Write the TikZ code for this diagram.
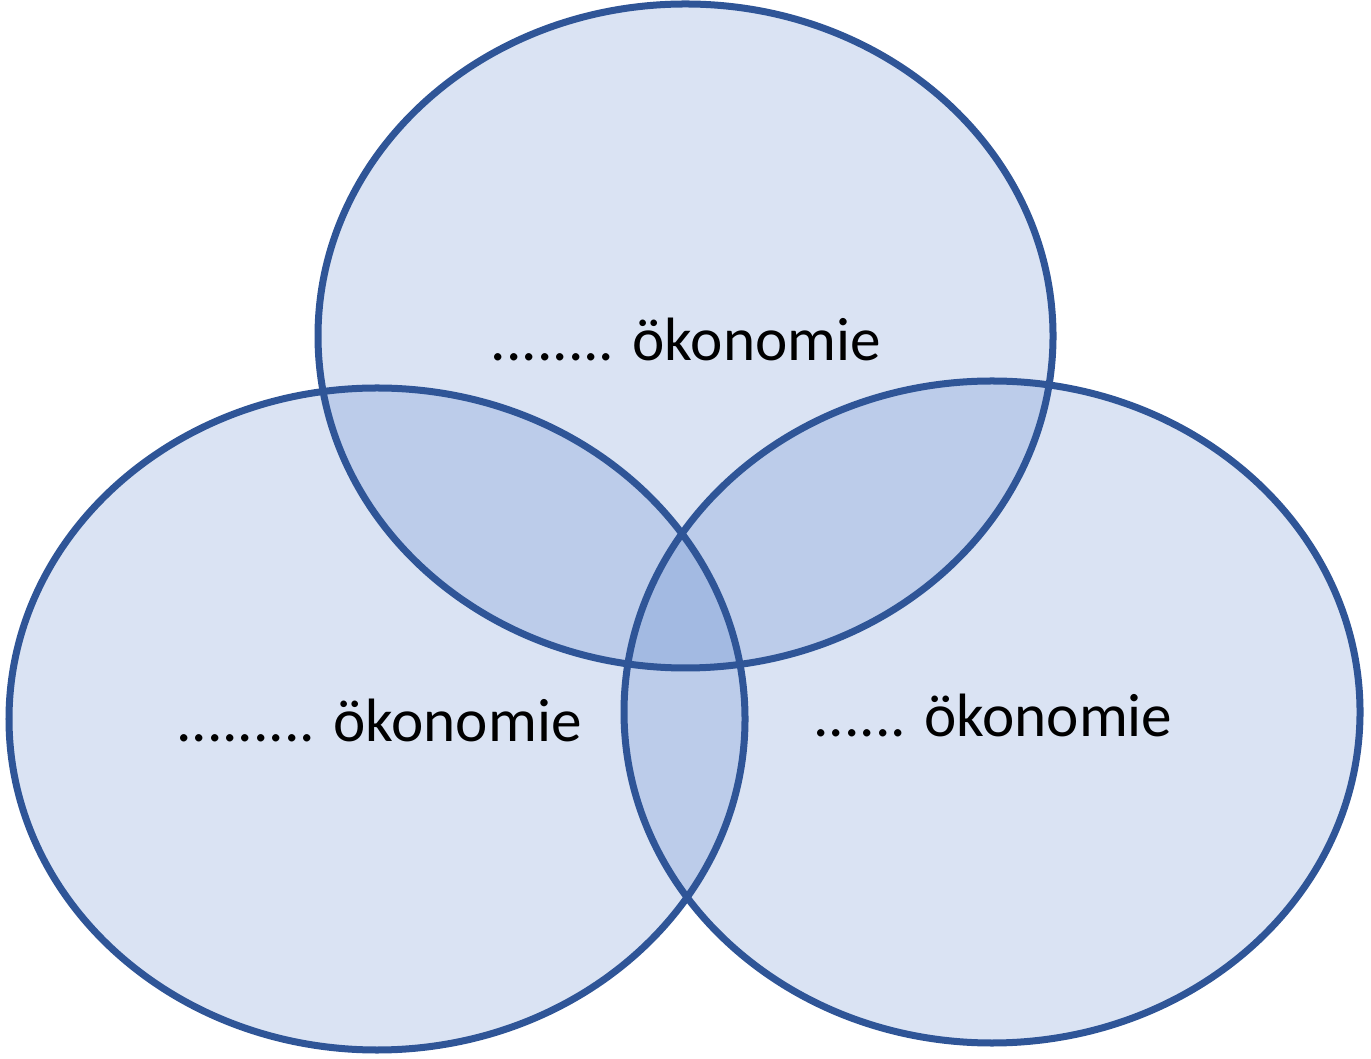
\documentclass[tikz,border=0pt]{standalone}
\usepackage{fontspec}
\setmainfont{Carlito}
\definecolor{setfill}{HTML}{4472C4}
\definecolor{setline}{HTML}{2F5597}
\begin{document}
\begin{tikzpicture}[x=0.01cm,y=0.01cm,
  setarea/.style={fill=setfill,fill opacity=0.2,draw=none},
  setedge/.style={draw=setline,line width=0.07cm},
  setlabel/.style={font=\fontsize{17.4}{21}\selectfont,text=black,inner sep=0pt}]
\useasboundingbox (0,0) rectangle (1371,1058);
\coordinate (ctop) at (685.5,722);
\coordinate (cleft) at (377,339);
\coordinate (cright) at (992,346);
\fill[setarea] (ctop) ellipse [x radius=367.5, y radius=332];
\fill[setarea] (cleft) ellipse [x radius=368, y radius=331];
\fill[setarea] (cright) ellipse [x radius=368, y radius=331];
\draw[setedge] (ctop) ellipse [x radius=367.5, y radius=332];
\draw[setedge] (cleft) ellipse [x radius=368, y radius=331];
\draw[setedge] (cright) ellipse [x radius=368, y radius=331];
\node[setlabel] (ltop) at (686,718) {........ ökonomie};
\node[setlabel] (lleft) at (379,338) {......... ökonomie};
\node[setlabel] (lright) at (993,343) {...... ökonomie};
\end{tikzpicture}
\end{document}
